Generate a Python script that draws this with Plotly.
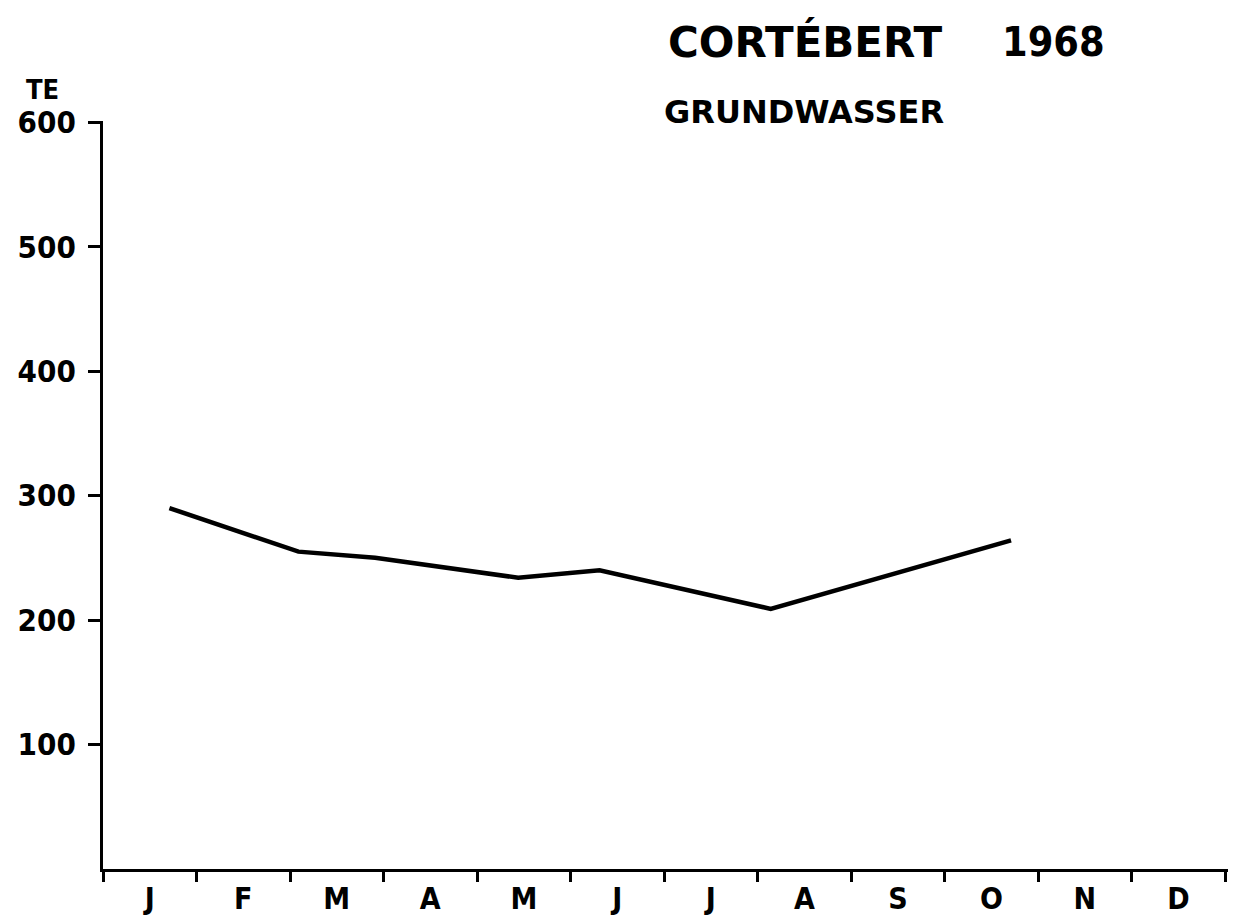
import plotly.graph_objects as go

# Data (x in months since 1 Jan 1968, y in TE)
sample_month_pos = [0.71, 2.09, 2.91, 4.44, 5.31, 7.14, 9.71]
te_values = [290, 255, 250, 234, 240, 209, 264]
month_labels = ["J", "F", "M", "A", "M", "J", "J", "A", "S", "O", "N", "D"]
y_ticks = [100, 200, 300, 400, 500, 600]

FONT = "DejaVu Sans Condensed, DejaVu Sans"
FONT_WIDE = "DejaVu Sans"

fig = go.Figure()
fig.add_trace(go.Scatter(
    x=sample_month_pos, y=te_values, mode="lines",
    line=dict(color="black", width=4.5), hoverinfo="skip", showlegend=False,
))

fig.update_layout(
    width=1233, height=919,
    margin=dict(l=103, r=5, t=121, b=50, autoexpand=False),
    paper_bgcolor="white", plot_bgcolor="white",
    font=dict(family=FONT, color="black"),
    showlegend=False,
)

fig.update_xaxes(
    range=[0, 12.03], showgrid=False, zeroline=False, automargin=False,
    showline=True, linecolor="black", linewidth=3,
    tickvals=[i + 0.5 for i in range(12)], ticktext=month_labels,
    ticks="", ticklabelstandoff=1,
    tickfont=dict(family=FONT, size=30, color="black", weight="bold"),
    minor=dict(tick0=0, dtick=1, ticks="outside", ticklen=10, tickwidth=3, tickcolor="black"),
)
fig.update_yaxes(
    range=[0, 601], showgrid=False, zeroline=False, automargin=False,
    showline=True, linecolor="black", linewidth=3,
    tickvals=y_ticks, ticktext=[str(v) for v in y_ticks],
    ticks="outside", ticklen=12, tickwidth=3, tickcolor="black",
    ticklabelstandoff=6,
    tickfont=dict(family=FONT, size=31, color="black", weight="bold"),
)

annotations = [
    dict(text="CORTÉBERT", x=(667 - 103) / 1128, y=1 + (121 - 42) / 748, size=42, fam=FONT_WIDE),
    dict(text="1968", x=(1002 - 103) / 1128, y=1 + (121 - 42) / 748, size=41, fam=FONT),
    dict(text="GRUNDWASSER", x=(663 - 103) / 1128, y=1 + (121 - 112) / 748, size=32, fam=FONT_WIDE),
    dict(text="TE", x=(24 - 103) / 1128, y=1 + (121 - 90) / 748, size=27, fam=FONT),
]
for a in annotations:
    fig.add_annotation(
        text=a["text"], x=a["x"], y=a["y"], xref="paper", yref="paper",
        xanchor="left", yanchor="middle", showarrow=False,
        font=dict(family=a["fam"], color="black", weight="bold", size=a["size"]),
    )

fig.write_html(
    "out.html",
    config={"displayModeBar": False},
    post_script="document.body.style.margin='0';document.body.style.padding='0';",
)
